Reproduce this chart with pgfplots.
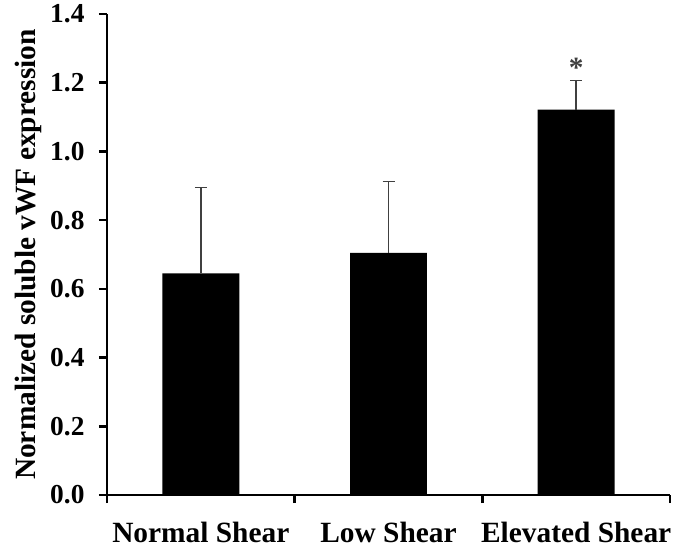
\documentclass[border=0pt]{standalone}
\usepackage{pgfplots}
\pgfplotsset{compat=1.18}
\usepackage{fontspec}
\setmainfont{Liberation Serif}
\newcommand{\labelfont}{\fontsize{29.5}{33}\selectfont\bfseries}
\newcommand{\numfont}{\fontsize{27.5}{31}\selectfont\bfseries}
\begin{document}
\begin{tikzpicture}
\begin{axis}[
    name=ax,
    width=563bp, height=481bp, scale only axis,
    xmin=-0.5, xmax=2.5, ymin=0, ymax=1.4,
    axis x line*=bottom, axis y line*=left,
    axis line style={line width=2.8bp},
    tick align=outside,
    major tick length=8bp,
    tick style={line width=2.6bp, black},
    ytick={0,0.2,...,1.4},
    /pgf/number format/assume math mode=true,
    yticklabel style={font=\numfont, xshift=-11bp, /pgf/number format/.cd, fixed, fixed zerofill, precision=1},
    xtick={-0.5,0.5,1.5,2.5},
    xticklabels={,,,},
    extra x ticks={0,1,2},
    extra x tick labels={Normal Shear, Low Shear, Elevated Shear},
    extra x tick style={major tick length=0pt, tick style={draw=none},
        xticklabel shift=24bp, xticklabel style={font=\labelfont}},
    ylabel={Normalized soluble vWF expression},
    ylabel style={font=\labelfont, yshift=2bp},
    clip=false,
]
\addplot[ybar, bar width=0.41, fill=black, draw=none,
    error bars/.cd, y dir=plus, y explicit,
    error bar style={line width=1.4bp, color=black!75},
    error mark options={rotate=90, mark size=6bp, line width=1.4bp, color=black!75}]
    table[x=x, y=y, y error=e] {
    x y e
    0 0.645 0.250
    1 0.705 0.208
    2 1.122 0.085
    };
\node[font=\labelfont, text=black!75, anchor=base] at (axis cs:2,1.215) {*};
\end{axis}
\pgfresetboundingbox
\path[use as bounding box] ([xshift=-107bp,yshift=-53bp]ax.south west) rectangle ([xshift=5bp,yshift=14bp]ax.north east);
\end{tikzpicture}
\end{document}
